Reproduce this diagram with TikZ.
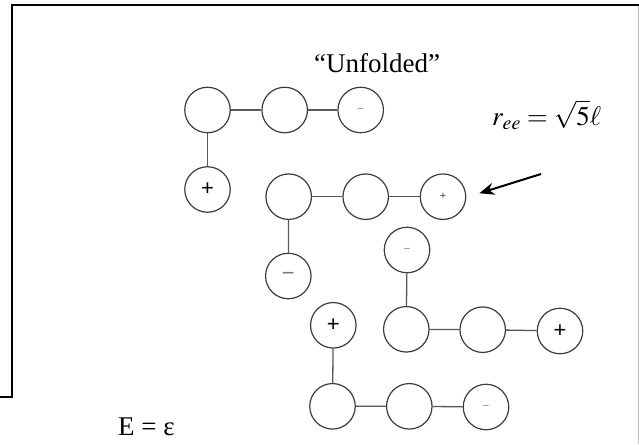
\documentclass[tikz,border=0pt]{standalone}
\usepackage{mathptmx}
\usepackage[no-math]{fontspec}
\setmainfont{Liberation Serif}
\newfontfamily\signfont{Liberation Sans}
\usetikzlibrary{arrows.meta}
\definecolor{ink}{HTML}{3C3C3C}
\definecolor{bond}{HTML}{585858}
\definecolor{faint}{HTML}{7A7A7A}
\definecolor{rim}{HTML}{BDBDBD}

\tikzset{
  bead/.style={circle,draw=ink,line width=1.2pt,minimum size=45.5pt,inner sep=0pt},
  bigsign/.style={font=\signfont\fontsize{22}{22}\selectfont},
  smallsign/.style={text=faint,font=\signfont\fontsize{11}{11}\selectfont},
  bondline/.style={bond,line width=1.3pt},
  caption/.style={font=\fontsize{27}{30}\selectfont,inner sep=0pt}
}

\begin{document}
\begin{tikzpicture}[x=1pt,y=-1pt]
\useasboundingbox (0,0) rectangle (639,444);
% frame
\draw[line width=2.4pt] (0,397) -- (12,397) -- (12,5) -- (639,5);
\draw[rim,line width=1pt] (638.3,6) -- (638.3,444);

% first chain
\node[bead] (a1) at (207.5,110) {};
\node[bead] (a2) at (284.7,110) {};
\node[bead,smallsign] (a3) at (360.7,110) {−};
\node[bead,bigsign] (a0) at (207.5,189.5) {+};
\draw[bondline] (a1) -- (a2) -- (a3);
\draw[bondline] (a1) -- (a0);

% second chain
\node[bead] (b1) at (288.7,196.7) {};
\node[bead] (b2) at (365.7,196.7) {};
\node[bead,smallsign,text=ink] (b3) at (443,196.7) {+};
\node[bead,bigsign,text=faint] (b0) at (288.3,276) {−};
\draw[bondline] (b1) -- (b2) -- (b3);
\draw[bondline] (b1) -- (b0);

% third chain
\node[bead,smallsign] (c0) at (407,250) {−};
\node[bead] (c1) at (406.3,329.3) {};
\node[bead] (c2) at (482.7,329.7) {};
\node[bead,bigsign] (c3) at (560,331) {+};
\draw[bondline] (c0) -- (c1);
\draw[bondline] (c1) -- (c2) -- (c3);

% fourth chain
\node[bead,bigsign] (d0) at (333.3,325.3) {+};
\node[bead] (d1) at (332.5,406.3) {};
\node[bead] (d2) at (409.3,406.3) {};
\node[bead,smallsign] (d3) at (486,407) {−};
\draw[bondline] (d0) -- (d1);
\draw[bondline] (d1) -- (d2) -- (d3);

% labels
\node[caption,anchor=base] (title) at (377,72) {“Unfolded”};
\node[caption,anchor=base west] (ree) at (492,125) {$r_{ee} = \sqrt{5}\ell$};
\node[caption,anchor=base west] (energy) at (118,435) {E = ε};

% pointer
\coordinate (ptail) at (541,174);
\coordinate (ptip) at (479.3,193.3);
\draw[line width=2pt,-{Stealth[length=15pt,width=12pt]}] (ptail) -- (ptip);
\end{tikzpicture}
\end{document}
